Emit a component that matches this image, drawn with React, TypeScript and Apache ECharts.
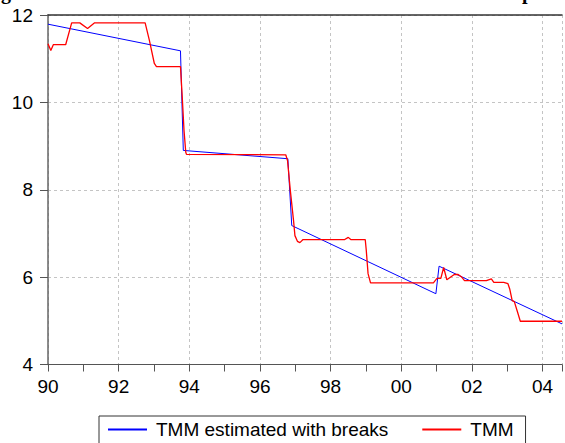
import React, { useEffect, useRef } from "react";
import * as echarts from "echarts";

const tmmDates = [
  1990.0, 1990.08, 1990.15, 1990.5, 1990.67, 1990.9, 1991.12, 1991.32, 1992.75, 1992.87,
  1993.01, 1993.07, 1993.75, 1993.8, 1993.85, 1993.9, 1993.92, 1996.73, 1996.78, 1996.86,
  1996.95, 1996.99, 1997.06, 1997.13, 1997.22, 1998.4, 1998.5, 1998.57, 1998.98, 1999.01,
  1999.06, 1999.13, 2000.91, 2001.01, 2001.12, 2001.2, 2001.29, 2001.36, 2001.5, 2001.61,
  2001.7, 2001.79, 2002.41, 2002.55, 2002.62, 2002.9, 2003.02, 2003.07, 2003.14, 2003.2,
  2003.28, 2003.37, 2004.55,
];
const tmmValues = [
  11.34, 11.19, 11.32, 11.32, 11.82, 11.82, 11.69, 11.82, 11.82, 11.42,
  10.89, 10.82, 10.82, 10.12, 9.36, 8.86, 8.81, 8.8, 8.67, 7.98,
  7.3, 6.95, 6.82, 6.79, 6.86, 6.86, 6.91, 6.86, 6.86, 6.61,
  6.08, 5.87, 5.87, 5.97, 5.97, 6.22, 5.94, 5.98, 6.06, 6.06,
  6.01, 5.92, 5.92, 5.96, 5.88, 5.88, 5.85, 5.73, 5.46, 5.44,
  5.23, 4.99, 4.99,
];

// TMM estimated with breaks (piecewise trend)
const fitDates = [1990.0, 1993.75, 1993.83, 1996.79, 1996.9, 2000.98, 2001.07, 2004.55];
const fitValues = [11.79, 11.18, 8.9, 8.71, 7.18, 5.62, 6.25, 4.93];

const seriesNames = ["TMM estimated with breaks", "TMM"];
const seriesColors = ["#0000ff", "#ff0000"];
const xMin = 1990;
const xMax = 2004.55;
const yTicks = [4, 6, 8, 10, 12];

export default function App() {
  const ref = useRef<HTMLDivElement>(null);
  useEffect(() => {
    if (!ref.current) return;
    const chart = echarts.init(ref.current, undefined, { renderer: "svg" });
    const font = "'Liberation Sans', Arial, sans-serif";
    chart.setOption({
      animation: false,
      backgroundColor: "#ffffff",
      color: seriesColors,
      grid: { left: 48, right: 0, top: 15, bottom: 78.5, containLabel: false },
      legend: {
        data: seriesNames,
        left: 99,
        top: 416,
        orient: "horizontal",
        padding: [4, 12, 6, 8],
        itemGap: 33,
        itemWidth: 39,
        itemHeight: 14,
        itemStyle: { opacity: 0 },
        borderColor: "#333",
        borderWidth: 1,
        borderRadius: 0,
        textStyle: { fontSize: 19, color: "#000", fontFamily: font, padding: [0, 0, 0, 4] },
      },
      xAxis: [
        {
          type: "value",
          min: xMin,
          max: xMax,
          interval: 1,
          position: "bottom",
          axisLine: { show: true, onZero: false, lineStyle: { color: "#555", width: 1 } },
          axisTick: { show: true, length: 7, lineStyle: { color: "#555" } },
          axisLabel: {
            fontSize: 19,
            color: "#000",
            fontFamily: font,
            margin: 12,
            formatter: (v: number) =>
              Number.isInteger(v) && v % 2 === 0 ? String(v % 100).padStart(2, "0") : "",
          },
          splitLine: { show: false },
        },
        {
          type: "value",
          min: xMin,
          max: xMax,
          interval: 2,
          position: "top",
          axisLine: { show: true, onZero: false, lineStyle: { color: "#333", width: 1.5 } },
          axisTick: { show: false },
          axisLabel: { show: false },
          splitLine: { show: true, lineStyle: { color: "#c4c4c4", type: [3, 3], width: 1 } },
        },
      ],
      yAxis: {
        type: "value",
        min: yTicks[0],
        max: yTicks[yTicks.length - 1],
        interval: 2,
        axisLine: { show: true, onZero: false, lineStyle: { color: "#666", width: 1.5 } },
        axisTick: { show: true, length: 8, lineStyle: { color: "#555" } },
        axisLabel: { fontSize: 19, color: "#000", fontFamily: font, margin: 15 },
        splitLine: { show: true, lineStyle: { color: "#c4c4c4", type: [3, 3], width: 1 } },
      },
      series: [
        {
          name: seriesNames[0],
          type: "line",
          xAxisIndex: 0,
          symbol: "none",
          data: fitDates.map((d, i) => [d, fitValues[i]]),
          lineStyle: { color: seriesColors[0], width: 1 },
          itemStyle: { color: seriesColors[0] },
        },
        {
          name: seriesNames[1],
          type: "line",
          xAxisIndex: 0,
          symbol: "none",
          data: tmmDates.map((d, i) => [d, tmmValues[i]]),
          lineStyle: { color: seriesColors[1], width: 1.3 },
          itemStyle: { color: seriesColors[1] },
        },
      ],
      graphic: [
        {
          type: "text",
          x: 1,
          y: 2,
          style: {
            text: "g",
            font: "bold 20px 'Liberation Serif', serif",
            fill: "#000",
            verticalAlign: "bottom",
          },
        },
        {
          type: "text",
          x: 522,
          y: 2,
          style: {
            text: "p",
            font: "bold 20px 'Liberation Serif', serif",
            fill: "#000",
            verticalAlign: "bottom",
          },
        },
      ],
    });
    return () => chart.dispose();
  }, []);
  return (
    <div
      ref={ref}
      style={{ position: "fixed", left: 0, top: 0, width: 565, height: 443, background: "#fff" }}
    />
  );
}
